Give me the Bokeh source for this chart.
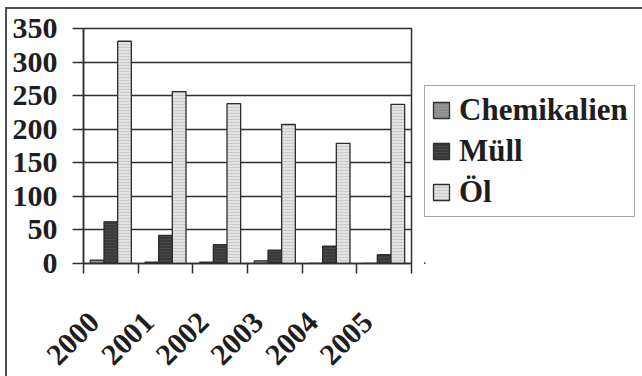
import math
from bokeh.plotting import figure
from bokeh.layouts import row
from bokeh.models import (ColumnDataSource, Range1d, FixedTicker, Legend, LegendItem)
from bokeh.transform import dodge
from bokeh.embed import file_html
from bokeh.resources import INLINE

# Yearly quantities per category
years = ["2000", "2001", "2002", "2003", "2004", "2005"]
chemikalien = [5, 2, 2, 4, 0, 0]
muell = [62, 42, 28, 20, 26, 13]
oel = [331, 256, 238, 207, 179, 237]
series = ["Chemikalien", "Müll", "Öl"]
y_ticks = [0, 50, 100, 150, 200, 250, 300, 350]

FONT = "Liberation Serif"
INK = "#1e1e1e"
LINE = "#2e2e2e"

# per-series bar styling
styles = {
    "Chemikalien": dict(fill_color="#8e8e8e", hatch_color="#989898"),
    "Müll": dict(fill_color="#3a3a3a", hatch_color="#474747"),
    "Öl": dict(fill_color="#e2e2e2", hatch_color="#cacaca"),
}
bar_common = dict(line_color=LINE, line_width=1.3, hatch_pattern="horizontal_line",
                  hatch_scale=3, hatch_weight=1)

# slot centres on a numeric x scale: one unit per year
pos = [i + 0.5 for i in range(len(years))]
src = ColumnDataSource(dict(x=pos, chem=chemikalien, muell=muell, oel=oel))
columns = {"Chemikalien": "chem", "Müll": "muell", "Öl": "oel"}

BORDER_TOP, BORDER_BOTTOM = 19, 102

p = figure(width=406, height=367, output_backend="svg", toolbar_location=None,
           x_range=Range1d(0, len(years)), y_range=Range1d(0, 350),
           min_border_left=76, min_border_right=2, min_border_top=BORDER_TOP,
           min_border_bottom=BORDER_BOTTOM)
p.outline_line_color = LINE
p.outline_line_width = 1.5
p.background_fill_color = "white"
p.border_fill_color = "white"

bar_w = 0.25
for name, off in zip(series, [-bar_w, 0, bar_w]):
    p.vbar(x=dodge("x", off, range=p.x_range), top=columns[name], bottom=0,
           width=bar_w, source=src, **styles[name], **bar_common)

# grid
p.xgrid.visible = False
p.ygrid.ticker = FixedTicker(ticks=y_ticks)
p.ygrid.grid_line_color = LINE
p.ygrid.grid_line_width = 1.5

# y axis
ya = p.yaxis[0]
ya.ticker = FixedTicker(ticks=y_ticks)
ya.axis_line_color = LINE
ya.axis_line_width = 1.5
ya.major_tick_line_color = LINE
ya.major_tick_line_width = 1.5
ya.major_tick_out = 11
ya.major_tick_in = 0
ya.minor_tick_line_color = None
ya.major_label_standoff = 15
ya.major_label_text_font = FONT
ya.major_label_text_font_style = "bold"
ya.major_label_text_font_size = "30px"
ya.major_label_text_color = INK

# x axis: slanted year labels, with tick marks on the slot boundaries
label_pos = [c - 0.3 for c in pos]
xa = p.xaxis[0]
xa.ticker = FixedTicker(ticks=label_pos, minor_ticks=list(range(len(years) + 1)))
xa.major_label_overrides = {lp: y for lp, y in zip(label_pos, years)}
xa.axis_line_color = LINE
xa.axis_line_width = 1.5
xa.major_tick_line_color = None
xa.major_tick_out = 0
xa.major_tick_in = 0
xa.minor_tick_line_color = LINE
xa.minor_tick_line_width = 1.5
xa.minor_tick_out = 10
xa.minor_tick_in = 0
xa.major_label_orientation = math.pi / 4
xa.major_label_standoff = 44
xa.major_label_text_font = FONT
xa.major_label_text_font_style = "bold"
xa.major_label_text_font_size = "30px"
xa.major_label_text_color = INK

# legend panel to the right of the chart; its swatches reuse the bar styles
pl = figure(width=229, height=367, output_backend="svg", toolbar_location=None,
            x_range=Range1d(100, 101), y_range=Range1d(1000, 1001),
            x_axis_type=None, y_axis_type=None,
            min_border_left=11, min_border_top=BORDER_TOP, min_border_right=0,
            min_border_bottom=BORDER_BOTTOM)
pl.grid.visible = False
pl.outline_line_color = None
pl.background_fill_color = "white"
pl.border_fill_color = "white"
items = []
for name in series:
    r = pl.vbar(x="x", top=columns[name], width=bar_w, source=src,
                **styles[name], **bar_common)
    items.append(LegendItem(label=name, renderers=[r]))

legend = Legend(items=items, location=(0, 46), orientation="vertical",
                label_text_font=FONT, label_text_font_style="bold",
                label_text_font_size="31px", label_text_color=INK,
                glyph_width=20, glyph_height=20, label_standoff=8,
                spacing=5, padding=6, margin=0,
                border_line_color="#505050", border_line_width=1.5,
                background_fill_color="white", background_fill_alpha=1)
pl.add_layout(legend, "center")

layout = row(p, pl, spacing=0,
             styles={"margin-left": "5px", "margin-top": "7px",
                     "border-top": "2px solid #505050",
                     "border-left": "2px solid #505050"})

open("out.html", "w").write(file_html(layout, INLINE))
